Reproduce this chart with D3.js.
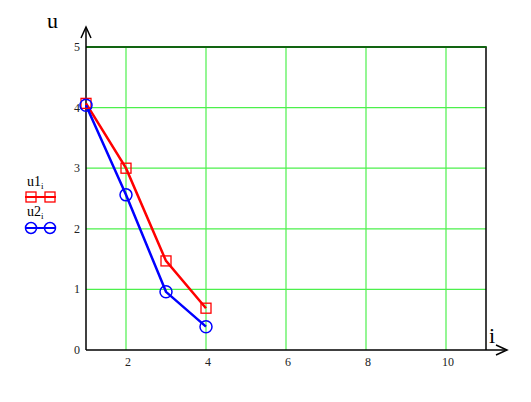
<!DOCTYPE html>
<html><head><meta charset="utf-8">
<script src="https://cdn.jsdelivr.net/npm/d3@7"></script>
<style>body{margin:0;background:#fff}svg{display:block}</style>
</head><body>
<svg id="c" width="531" height="402"></svg>
<script>
const iVals = [1, 2, 3, 4];
const u1 = [4.07, 3.0, 1.47, 0.69];
const u2 = [4.04, 2.56, 0.96, 0.385];
const xTicks = [2, 4, 6, 8, 10];
const yTicks = [0, 1, 2, 3, 4, 5];

const svg = d3.select("#c");
const x = d3.scaleLinear().domain([1, 11]).range([86, 486]);
const y = d3.scaleLinear().domain([0, 5]).range([350, 47]);
const serif = "Liberation Serif, DejaVu Serif, serif";

// grid
svg.append("g").selectAll("line").data(xTicks).join("line")
  .attr("x1", d => x(d)).attr("x2", d => x(d)).attr("y1", y(0)).attr("y2", y(5))
  .attr("stroke", "#4cf04c").attr("stroke-width", 1.2);
svg.append("g").selectAll("line").data([1,2,3,4]).join("line")
  .attr("x1", x(1)).attr("x2", x(11)).attr("y1", d => y(d)).attr("y2", d => y(d))
  .attr("stroke", "#4cf04c").attr("stroke-width", 1.2);

// right border
svg.append("line").attr("x1", x(11)).attr("x2", x(11)).attr("y1", y(0)).attr("y2", y(5))
  .attr("stroke", "#000").attr("stroke-width", 1.5);
// top border
svg.append("line").attr("x1", x(1)).attr("x2", x(11)+0.75).attr("y1", y(5)).attr("y2", y(5))
  .attr("stroke", "#126412").attr("stroke-width", 2);

// axes
svg.append("line").attr("x1", x(1)).attr("x2", 505).attr("y1", y(0)).attr("y2", y(0))
  .attr("stroke", "#000").attr("stroke-width", 1.5);
svg.append("path").attr("d", `M${496},${y(0)-5} L${507},${y(0)} L${496},${y(0)+5}`)
  .attr("fill", "none").attr("stroke", "#000").attr("stroke-width", 1.5);
svg.append("line").attr("x1", x(1)).attr("x2", x(1)).attr("y1", y(0)).attr("y2", 28)
  .attr("stroke", "#000").attr("stroke-width", 1.5);
svg.append("path").attr("d", `M${x(1)-5},${38} L${x(1)},${27} L${x(1)+5},${38}`)
  .attr("fill", "none").attr("stroke", "#000").attr("stroke-width", 1.5);

// tick labels
svg.append("g").selectAll("text").data(yTicks).join("text")
  .attr("x", 80).attr("y", d => y(d) + 4).attr("text-anchor", "end")
  .attr("font-family", serif).attr("font-size", 12).attr("fill", "#222").text(d => d);
svg.append("g").selectAll("text").data(xTicks).join("text")
  .attr("x", d => x(d) + 2).attr("y", 366).attr("text-anchor", "middle")
  .attr("font-family", serif).attr("font-size", 12).attr("fill", "#222").text(d => d);

// axis titles
svg.append("text").attr("x", 47).attr("y", 28).attr("font-family", serif).attr("font-size", 22).text("u");
svg.append("text").attr("x", 489).attr("y", 343).attr("font-family", serif).attr("font-size", 22).text("i");

// series
const line = d3.line().x((d, k) => x(iVals[k])).y(d => y(d));
svg.append("path").datum(u1).attr("d", line).attr("fill", "none").attr("stroke", "#ff0000").attr("stroke-width", 2.5);
svg.append("path").datum(u2).attr("d", line).attr("fill", "none").attr("stroke", "#0000ff").attr("stroke-width", 2.5);
svg.append("g").selectAll("rect").data(u1).join("rect")
  .attr("x", (d, k) => x(iVals[k]) - 5).attr("y", d => y(d) - 5).attr("width", 10).attr("height", 10)
  .attr("fill", "none").attr("stroke", "#ff0000").attr("stroke-width", 1.3);
svg.append("g").selectAll("circle").data(u2).join("circle")
  .attr("cx", (d, k) => x(iVals[k])).attr("cy", d => y(d)).attr("r", 6)
  .attr("fill", "none").attr("stroke", "#0000ff").attr("stroke-width", 1.5);

// legend
const lg = svg.append("g");
const t1 = lg.append("text").attr("x", 27).attr("y", 186).attr("font-family", serif).attr("font-size", 14);
t1.append("tspan").text("u1");
t1.append("tspan").attr("font-size", 9).attr("dy", 3).text("i");
lg.append("line").attr("x1", 25).attr("x2", 56).attr("y1", 197).attr("y2", 197).attr("stroke", "#ff0000").attr("stroke-width", 2);
[31, 50].forEach(cx => lg.append("rect").attr("x", cx - 5).attr("y", 192).attr("width", 10).attr("height", 10)
  .attr("fill", "none").attr("stroke", "#ff0000").attr("stroke-width", 1.3));
const t2 = lg.append("text").attr("x", 27).attr("y", 216).attr("font-family", serif).attr("font-size", 14);
t2.append("tspan").text("u2");
t2.append("tspan").attr("font-size", 9).attr("dy", 3).text("i");
lg.append("line").attr("x1", 25).attr("x2", 56).attr("y1", 228).attr("y2", 228).attr("stroke", "#0000ff").attr("stroke-width", 2);
[31, 50].forEach(cx => lg.append("circle").attr("cx", cx).attr("cy", 228).attr("r", 5.5)
  .attr("fill", "none").attr("stroke", "#0000ff").attr("stroke-width", 1.5));
</script>
</body></html>
